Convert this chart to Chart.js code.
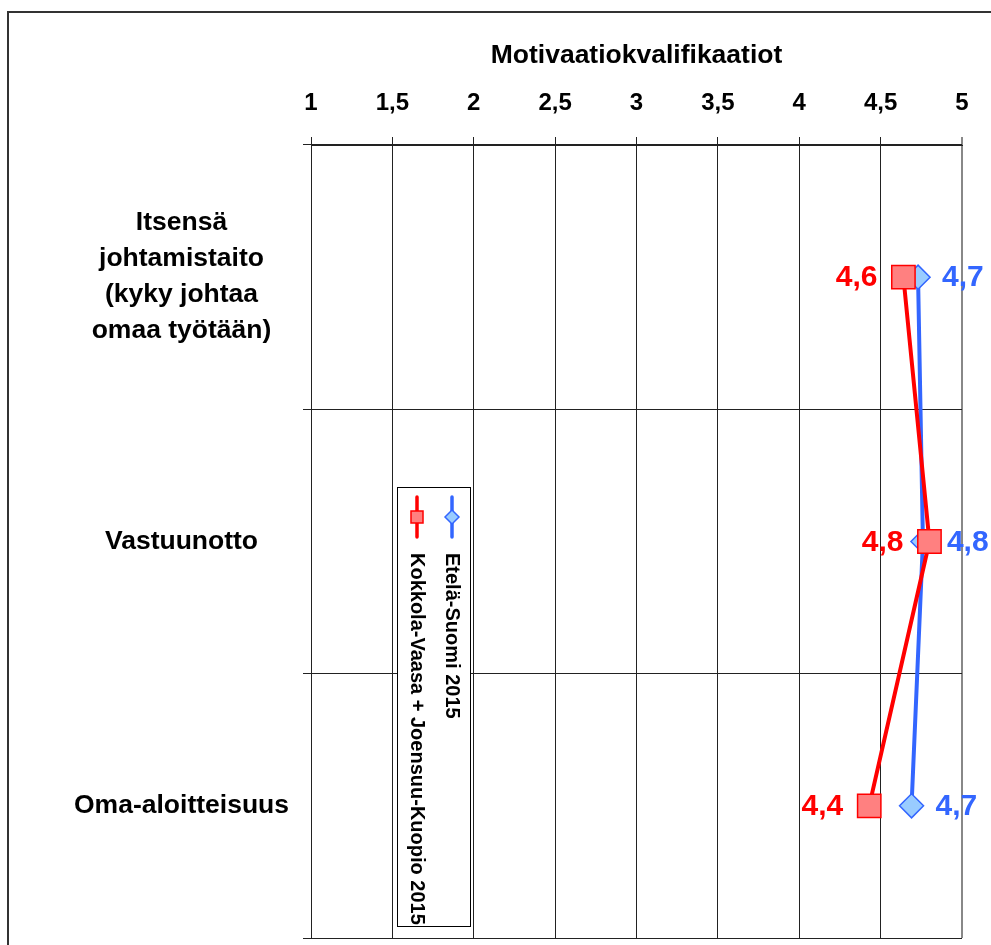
<!DOCTYPE html>
<html>
<head>
<meta charset="utf-8">
<script src="https://cdn.jsdelivr.net/npm/chart.js@4.4.1/dist/chart.umd.min.js"></script>
<style>
  html, body { margin: 0; padding: 0; background: #fff; }
  canvas { display: block; }
</style>
</head>
<body>
<canvas id="chart" width="991" height="945"></canvas>
<script>
// Category labels (multi-line where the source wraps)
const categories = [
  ['Itsensä', 'johtamistaito', '(kyky johtaa', 'omaa työtään)'],
  'Vastuunotto',
  'Oma-aloitteisuus'
];

// Mean scores on the 1–5 scale
const seriesNames = ['Etelä-Suomi 2015', 'Kokkola-Vaasa + Joensuu-Kuopio 2015'];
const etelaSuomi = [4.73, 4.76, 4.69];
const kokkolaJoensuu = [4.64, 4.80, 4.43];

// Axis ticks
const xTicks = [1, 1.5, 2, 2.5, 3, 3.5, 4, 4.5, 5];

const FONT = "'Liberation Sans', Arial, Helvetica, sans-serif";
const BLUE = '#3366FF';
const BLUE_FILL = '#99CCFF';
const RED = '#FF0000';
const RED_FILL = '#FF8080';

const fmt = v => v.toFixed(1).replace('.', ',');

// Outer frame around the whole chart
const framePlugin = {
  id: 'frame',
  beforeDraw(chart) {
    const ctx = chart.ctx;
    ctx.save();
    ctx.fillStyle = '#fff';
    ctx.fillRect(0, 0, chart.width, chart.height);
    ctx.strokeStyle = '#333';
    ctx.lineWidth = 2;
    ctx.strokeRect(8, 12, chart.width + 20, chart.height + 20);
    ctx.restore();
  }
};

// Value labels beside each point
const valueLabelPlugin = {
  id: 'valueLabels',
  afterDatasetsDraw(chart, args, opts) {
    const ctx = chart.ctx;
    ctx.save();
    ctx.font = `bold ${opts.size}px ${FONT}`;
    ctx.textBaseline = 'middle';
    chart.data.datasets.forEach((ds, i) => {
      const meta = chart.getDatasetMeta(i);
      const side = opts.sides[i];
      ctx.fillStyle = ds.borderColor;
      ctx.textAlign = side === 'left' ? 'right' : 'left';
      meta.data.forEach((pt, j) => {
        const dx = side === 'left' ? -opts.gapLeft : opts.gapRight;
        ctx.fillText(fmt(ds.data[j]), pt.x + dx, pt.y + 1);
      });
    });
    ctx.restore();
  }
};

// Legend drawn in a box rotated a quarter turn
const rotatedLegendPlugin = {
  id: 'rotatedLegend',
  afterDraw(chart, args, opts) {
    const ctx = chart.ctx;
    const { left, top, width, height } = opts.box;
    ctx.save();
    ctx.fillStyle = '#fff';
    ctx.fillRect(left, top, width, height);
    ctx.strokeStyle = '#000';
    ctx.lineWidth = 1;
    ctx.strokeRect(left + 0.5, top + 0.5, width, height);

    const right = left + width;
    chart.data.datasets.forEach((ds, i) => {
      const cx = right - opts.rowOffset - i * opts.rowGap;
      // sample line
      ctx.strokeStyle = ds.borderColor;
      ctx.lineWidth = 3.5;
      ctx.lineCap = 'round';
      ctx.beginPath();
      ctx.moveTo(cx, top + opts.lineStart);
      ctx.lineTo(cx, top + opts.lineEnd);
      ctx.stroke();
      // marker
      ctx.fillStyle = ds.pointBackgroundColor;
      ctx.strokeStyle = ds.pointBorderColor;
      ctx.lineWidth = 1.5;
      Chart.helpers.drawPoint(ctx, {
        pointStyle: ds.pointStyle,
        radius: ds.pointStyle === 'rect' ? 8.5 : 7,
        rotation: 0,
        borderWidth: 1.5
      }, cx, top + (opts.lineStart + opts.lineEnd) / 2);

      // rotated label text
      ctx.save();
      ctx.translate(cx, top + opts.textStart);
      ctx.rotate(Math.PI / 2);
      ctx.fillStyle = '#000';
      ctx.font = `bold ${opts.size}px ${FONT}`;
      ctx.textAlign = 'left';
      ctx.textBaseline = 'middle';
      ctx.fillText(ds.label, 0, 0);
      ctx.restore();
    });
    ctx.restore();
  }
};

const ctx = document.getElementById('chart').getContext('2d');
new Chart(ctx, {
  type: 'line',
  data: {
    labels: categories,
    datasets: [
      {
        label: seriesNames[0],
        data: etelaSuomi,
        borderColor: BLUE,
        backgroundColor: BLUE,
        borderWidth: 4,
        pointStyle: 'rectRot',
        pointRadius: 12,
        pointHoverRadius: 12,
        pointBackgroundColor: BLUE_FILL,
        pointBorderColor: BLUE,
        pointBorderWidth: 1.5,
        tension: 0,
        order: 1
      },
      {
        label: seriesNames[1],
        data: kokkolaJoensuu,
        borderColor: RED,
        backgroundColor: RED,
        borderWidth: 4,
        pointStyle: 'rect',
        pointRadius: 16.5,
        pointHoverRadius: 16.5,
        pointBackgroundColor: RED_FILL,
        pointBorderColor: RED,
        pointBorderWidth: 1.5,
        tension: 0,
        order: 0
      }
    ]
  },
  options: {
    indexAxis: 'y',
    responsive: false,
    animation: false,
    events: [],
    layout: { autoPadding: false, padding: { left: 0, top: 0, right: 29, bottom: 7 } },
    plugins: {
      legend: { display: false },
      tooltip: { enabled: false },
      valueLabels: { size: 30, sides: ['right', 'left'], gapLeft: 26, gapRight: 24 },
      rotatedLegend: {
        box: { left: 397, top: 487, width: 73, height: 439 },
        rowOffset: 18, rowGap: 35,
        lineStart: 10, lineEnd: 50, textStart: 66,
        size: 20
      }
    },
    scales: {
      x: {
        type: 'linear',
        position: 'top',
        min: 1,
        max: 5,
        afterBuildTicks(scale) {
          scale.ticks = xTicks.map(v => ({ value: v }));
        },
        ticks: {
          color: '#000',
          padding: 19,
          font: { family: FONT, size: 24, weight: 'bold' },
          callback: v => String(v).replace('.', ',')
        },
        grid: {
          color: c => (c.tick && c.tick.value === 5 ? '#888' : '#222'),
          lineWidth: c => (c.tick && c.tick.value === 5 ? 2 : 1),
          tickLength: 8
        },
        border: { color: '#222', width: 1 },
        title: {
          display: true,
          text: 'Motivaatiokvalifikaatiot',
          color: '#000',
          font: { family: FONT, size: 26.5, weight: 'bold', lineHeight: 1.2 },
          padding: { top: 40, bottom: 0 }
        },
        afterFit(scale) { scale.height = 145; }
      },
      y: {
        type: 'category',
        offset: true,
        grid: { offset: true, color: '#222', tickLength: 8 },
        border: { color: '#222', width: 1 },
        ticks: {
          crossAlign: 'center',
          padding: 14,
          color: '#000',
          font: { family: FONT, size: 26.5, weight: 'bold', lineHeight: '36px' }
        },
        afterFit(scale) {
          scale.width = 311;
          // labels sit inside their category bands, so no overhang is reserved
          scale.paddingTop = 0;
          scale.paddingBottom = 0;
        }
      }
    }
  },
  plugins: [framePlugin, valueLabelPlugin, rotatedLegendPlugin]
});
</script>
</body>
</html>
